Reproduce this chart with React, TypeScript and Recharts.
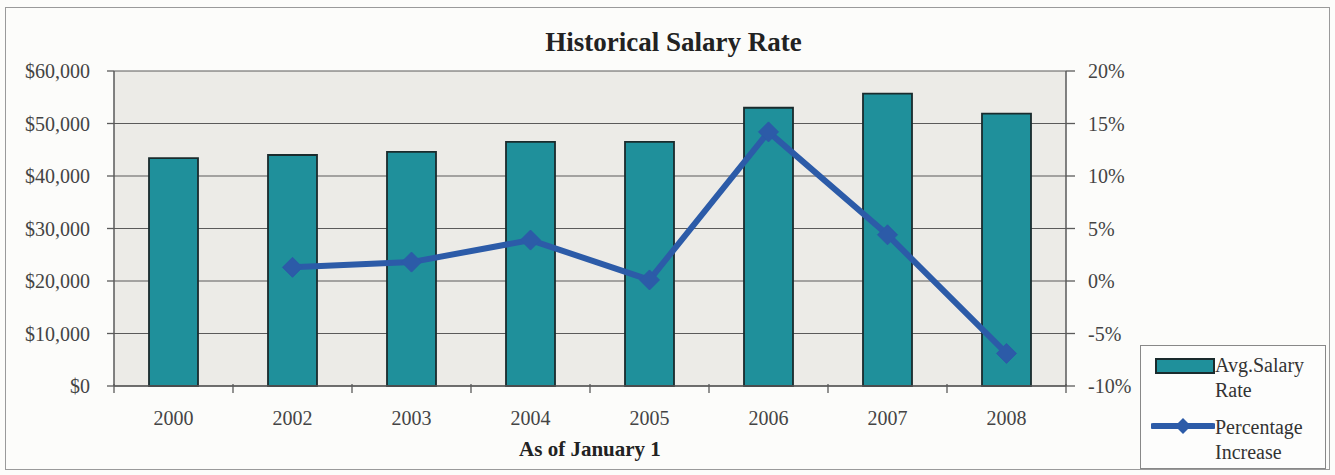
import React from 'react';
import { ComposedChart, Bar, Line, XAxis, YAxis, CartesianGrid } from 'recharts';

const years = ['2000', '2002', '2003', '2004', '2005', '2006', '2007', '2008'];
const avgSalary = [43400, 44000, 44600, 46500, 46500, 53000, 55700, 51900];
const pctIncrease: (number | null)[] = [null, 1.3, 1.8, 3.9, 0.1, 14.2, 4.4, -6.9];
const salaryTicks = [0, 10000, 20000, 30000, 40000, 50000, 60000];
const pctTicks = [-10, -5, 0, 5, 10, 15, 20];

const data = years.map((y, i) => ({ year: y, salary: avgSalary[i], pct: pctIncrease[i] }));

const FONT = '"Liberation Serif", "Times New Roman", serif';
const BAR_FILL = '#1f909b';
const BAR_STROKE = '#1a2b2d';
const LINE_COLOR = '#2c5ba8';
const GRID = '#5a5a5a';
const X_TICK_MARGIN = 25;

const fmtMoney = (v: number) => '$' + v.toLocaleString('en-US');
const fmtPct = (v: number) => `${v}%`;

const XTick = (props: any) => {
  const { x, y, payload, index, visibleTicksCount, width } = props;
  const n = visibleTicksCount || years.length;
  const band = (typeof width === 'number' ? width : 952) / n;
  const axisY = y - X_TICK_MARGIN;
  return (
    <g>
      <line x1={x - band / 2} x2={x - band / 2} y1={axisY - 2} y2={axisY + 7} stroke={GRID} strokeWidth={1.3} />
      {index === n - 1 && (
        <line x1={x + band / 2} x2={x + band / 2} y1={axisY - 2} y2={axisY + 7} stroke={GRID} strokeWidth={1.3} />
      )}
      <text x={x} y={y} dy="0.71em" textAnchor="middle" fill="#444" fontSize={20} fontFamily={FONT}>
        {payload.value}
      </text>
    </g>
  );
};

const Diamond = (props: any) => {
  const { cx, cy, value } = props;
  if (value === null || value === undefined || cx == null || cy == null) return <g />;
  const r = 10;
  return (
    <polygon
      points={`${cx},${cy - r} ${cx + r},${cy} ${cx},${cy + r} ${cx - r},${cy}`}
      fill={LINE_COLOR}
      stroke={LINE_COLOR}
    />
  );
};

export default function App() {
  return (
    <div
      style={{
        position: 'absolute',
        left: 0,
        top: 0,
        width: 1335,
        height: 475,
        background: '#fcfcfa',
        fontFamily: FONT,
        overflow: 'hidden',
      }}
    >
      <div
        style={{
          position: 'absolute',
          left: 5,
          top: 7,
          width: 1323,
          height: 461,
          border: '1px solid #9a9a9a',
        }}
      />
      <div
        style={{
          position: 'absolute',
          left: 0,
          width: 1335,
          top: 29,
          fontSize: 27,
          lineHeight: '27px',
          fontWeight: 'bold',
          textAlign: 'center',
          color: '#222',
          paddingLeft: 12,
          boxSizing: 'border-box',
        }}
      >
        Historical Salary Rate
      </div>
      <div style={{ position: 'absolute', left: 0, top: 0 }}>
        <ComposedChart
          width={1335}
          height={475}
          data={data}
          margin={{ top: 71, left: 14, right: 189, bottom: 49 }}
        >
          <CartesianGrid
            vertical={false}
            stroke={GRID}
            strokeWidth={1.2}
            fill="#ecebe7"
            fillOpacity={1}
            yAxisId="left"
          />
          <XAxis
            dataKey="year"
            height={40}
            tickLine={false}
            tickSize={0}
            tickMargin={X_TICK_MARGIN}
            axisLine={{ stroke: GRID, strokeWidth: 1.5 }}
            tick={<XTick />}
            interval={0}
          />
          <YAxis
            yAxisId="left"
            width={100}
            domain={[0, 60000]}
            ticks={salaryTicks}
            tickFormatter={fmtMoney}
            tickSize={7}
            tickMargin={17}
            tickLine={{ stroke: GRID, strokeWidth: 1.3 }}
            axisLine={{ stroke: GRID, strokeWidth: 1.5 }}
            tick={{ fill: '#444', fontSize: 20, fontFamily: FONT }}
            interval={0}
          />
          <YAxis
            yAxisId="right"
            orientation="right"
            width={80}
            domain={[-10, 20]}
            ticks={pctTicks}
            tickFormatter={fmtPct}
            tickSize={9}
            tickMargin={13}
            tickLine={{ stroke: GRID, strokeWidth: 1.3 }}
            axisLine={{ stroke: GRID, strokeWidth: 1.5 }}
            tick={{ fill: '#444', fontSize: 20, fontFamily: FONT }}
            interval={0}
          />
          <Bar
            yAxisId="left"
            dataKey="salary"
            barSize={49}
            fill={BAR_FILL}
            stroke={BAR_STROKE}
            strokeWidth={1.8}
            isAnimationActive={false}
          />
          <Line
            yAxisId="right"
            dataKey="pct"
            stroke={LINE_COLOR}
            strokeWidth={6}
            dot={<Diamond />}
            activeDot={false}
            connectNulls={false}
            isAnimationActive={false}
          />
        </ComposedChart>
      </div>
      <div
        style={{
          position: 'absolute',
          left: 490,
          width: 200,
          top: 439,
          fontSize: 21,
          lineHeight: '21px',
          fontWeight: 'bold',
          textAlign: 'center',
          color: '#222',
        }}
      >
        As of January 1
      </div>
      <div
        style={{
          position: 'absolute',
          left: 1140,
          top: 345,
          width: 184,
          height: 122,
          border: '1px solid #888',
          background: '#fdfdfc',
          fontSize: 20,
          lineHeight: '25px',
          color: '#333',
        }}
      >
        <div style={{ position: 'absolute', left: 14, top: 12, width: 56, height: 12, background: BAR_FILL, border: `2px solid ${BAR_STROKE}` }} />
        <div style={{ position: 'absolute', left: 74, top: 7 }}>
          Avg.Salary
          <br />
          Rate
        </div>
        <svg style={{ position: 'absolute', left: 10, top: 70 }} width={64} height={20}>
          <line x1={2} y1={10} x2={62} y2={10} stroke={LINE_COLOR} strokeWidth={6} strokeLinecap="round" />
          <polygon points="32,2 40,10 32,18 24,10" fill={LINE_COLOR} />
        </svg>
        <div style={{ position: 'absolute', left: 74, top: 69 }}>
          Percentage
          <br />
          Increase
        </div>
      </div>
    </div>
  );
}
